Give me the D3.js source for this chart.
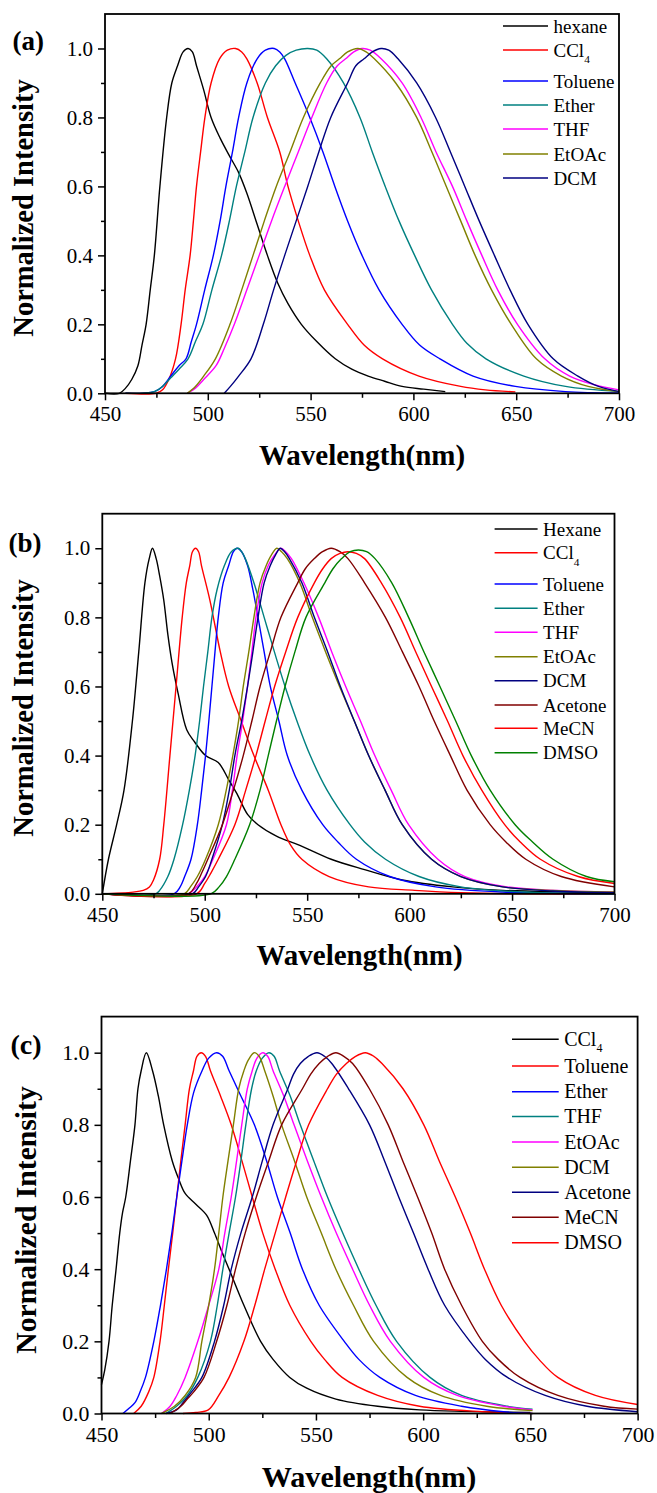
<!DOCTYPE html>
<html><head><meta charset="utf-8">
<script src="https://cdn.jsdelivr.net/npm/d3@7"></script>
<style>body{margin:0;background:#fff}svg{display:block}
svg text{font-family:"Liberation Serif","DejaVu Serif","Times New Roman",serif;}
</style>
</head><body>
<svg id="chart" width="657" height="1493"></svg>
<script>
// ---------- tick labels ----------
const xTicks = [450, 500, 550, 600, 650, 700];
const xMinorTicks = [475, 525, 575, 625, 675];
const yTicks = [0, 0.2, 0.4, 0.6, 0.8, 1.0];
const yMinorTicks = [0.1, 0.3, 0.5, 0.7, 0.9];
const xTitle = "Wavelength(nm)";
const yTitle = "Normalized Intensity";

// ---------- categories ----------
const solventsA = ["hexane", "CCl4", "Toluene", "Ether", "THF", "EtOAc", "DCM"];
const solventsB = ["Hexane", "CCl4", "Toluene", "Ether", "THF", "EtOAc", "DCM", "Acetone", "MeCN", "DMSO"];
const solventsC = ["CCl4", "Toluene", "Ether", "THF", "EtOAc", "DCM", "Acetone", "MeCN", "DMSO"];

// ---------- series values: [wavelength nm, normalized intensity] ----------
// Panel (a)
const a_hexane = [[450,0],[457,0],[460,0.015],[463,0.04],[466,0.08],[468,0.14],[470,0.2],[472,0.3],[474,0.4],[476.7,0.6],[480,0.8],[482.5,0.9],[485.3,0.95],[488,0.99],[490.4,1.0],[492.5,0.99],[494.5,0.95],[498,0.88],[501.6,0.8],[506,0.74],[510.4,0.69],[515,0.64],[519,0.58],[524,0.49],[529,0.4],[534,0.32],[539,0.26],[545.5,0.2],[553,0.15],[562,0.1],[570,0.07],[578,0.05],[586,0.035],[594.5,0.02],[605,0.012],[615.5,0.005]];
const a_ccl4 = [[460,0],[475,0],[478,0.01],[481,0.04],[484.3,0.1],[487,0.2],[489,0.3],[491.4,0.4],[493,0.5],[494.5,0.6],[496.5,0.7],[498.6,0.8],[501.6,0.9],[505.7,0.97],[509.5,0.995],[513.5,1.0],[516.5,0.99],[519,0.97],[524,0.9],[529,0.8],[535,0.7],[539,0.6],[544,0.5],[549.6,0.4],[556.7,0.3],[568,0.2],[576,0.14],[585,0.1],[602.7,0.05],[623,0.02],[635,0.01],[649.6,0.004]];
const a_toluene = [[460,0],[474,0.005],[478,0.02],[482,0.05],[486,0.08],[489.4,0.1],[492,0.15],[494.5,0.2],[498.5,0.3],[502.7,0.4],[506,0.5],[508.8,0.6],[512,0.7],[515,0.8],[519,0.9],[524,0.97],[528,0.995],[532.3,1.0],[535,0.99],[537.4,0.97],[542.5,0.9],[549.6,0.8],[556,0.7],[561.8,0.6],[568,0.5],[575,0.4],[583.3,0.3],[594.5,0.2],[603,0.14],[612.9,0.1],[629,0.05],[649.6,0.02],[674,0.005],[700,0.001]];
const a_ether = [[460,0],[474,0.005],[478,0.02],[482,0.045],[486,0.07],[490.4,0.1],[494,0.15],[497.6,0.2],[502,0.3],[506.7,0.4],[510.5,0.5],[513.9,0.6],[518,0.7],[522,0.8],[528,0.9],[533,0.95],[538,0.98],[543,0.995],[548.6,1.0],[553,0.995],[557.8,0.97],[566,0.9],[574,0.8],[580,0.7],[586.3,0.6],[593,0.5],[600.6,0.4],[608.8,0.3],[619,0.2],[626,0.145],[635.3,0.1],[653.7,0.05],[674,0.02],[700,0.005]];
const a_thf = [[490,0],[494,0.015],[498,0.04],[504,0.08],[508,0.13],[512.9,0.2],[519,0.3],[525,0.4],[531,0.5],[537.4,0.6],[544,0.7],[550.6,0.8],[557.8,0.9],[563,0.95],[567,0.97],[571,0.99],[575,1.0],[579,0.995],[584.3,0.97],[594.5,0.9],[603.7,0.8],[611,0.7],[619,0.6],[626,0.5],[633.3,0.4],[641,0.3],[650.6,0.2],[663.9,0.1],[676,0.05],[688,0.025],[700,0.01]];
const a_etoac = [[490,0],[494,0.02],[498,0.05],[503.7,0.1],[510.8,0.2],[516.5,0.3],[522,0.4],[527.5,0.5],[533.3,0.6],[540,0.7],[546.5,0.8],[554.7,0.9],[560,0.95],[564,0.97],[568,0.99],[573,1.0],[577,0.99],[581,0.97],[591.4,0.9],[601.6,0.8],[609,0.7],[616,0.6],[623,0.5],[630,0.4],[638,0.3],[647.6,0.2],[659.8,0.1],[672,0.05],[685,0.02],[700,0.005]];
const a_dcm = [[508,0],[511,0.02],[515,0.05],[521,0.1],[527,0.2],[532,0.3],[537.4,0.4],[543,0.5],[548.6,0.6],[554,0.7],[559.8,0.8],[568,0.9],[572,0.95],[576,0.97],[580,0.99],[584.3,1.0],[588,0.995],[592.5,0.97],[601.6,0.9],[610.8,0.8],[618,0.7],[625,0.6],[632,0.5],[639.4,0.4],[647,0.3],[655.7,0.2],[668,0.1],[680,0.05],[690,0.02],[700,0.005]];

// Panel (b)
const b_hexane = [[450,0],[453,0.1],[457,0.2],[460.6,0.3],[464.7,0.5],[467.8,0.7],[470.8,0.9],[472.9,0.97],[474.5,1.0],[476.3,0.97],[478,0.92],[480,0.85],[482,0.75],[484,0.67],[487,0.58],[491.2,0.475],[495,0.44],[500.4,0.4],[506.6,0.38],[511.7,0.33],[515.7,0.29],[520.9,0.23],[526,0.2],[535,0.167],[546.4,0.14],[561.7,0.1],[578,0.07],[596.4,0.04],[620.9,0.02],[645.4,0.01],[700,0.003]];
const b_ccl4 = [[450,0],[465,0.005],[470,0.01],[473,0.02],[475,0.04],[478,0.1],[480,0.2],[483,0.4],[486,0.6],[489,0.8],[491,0.9],[492.7,0.95],[494,0.99],[495.5,1.0],[497,0.99],[498.4,0.95],[502.5,0.85],[507.6,0.7],[511.7,0.6],[517.8,0.5],[524,0.4],[531,0.3],[537.2,0.2],[542,0.14],[547.4,0.1],[560.7,0.05],[580,0.02],[602.5,0.01],[625,0.003],[650,0],[700,0]];
const b_toluene = [[450,0],[485,0],[488,0.02],[490.2,0.05],[493.3,0.1],[496.4,0.2],[498.5,0.3],[500.4,0.4],[502,0.5],[503.5,0.6],[505,0.7],[506.6,0.8],[509,0.9],[511.7,0.95],[514,0.99],[515.8,1.0],[518,0.99],[520.9,0.95],[523.5,0.88],[526,0.8],[529,0.7],[532,0.6],[536.2,0.5],[540.3,0.4],[547.4,0.3],[557.6,0.2],[565,0.15],[574,0.1],[590.3,0.05],[612.7,0.02],[645.4,0.005],[700,0]];
const b_ether = [[450,0],[476,0],[478,0.01],[482,0.05],[485,0.1],[489.2,0.2],[492.5,0.3],[495.3,0.4],[497.5,0.5],[499.4,0.6],[501.5,0.7],[503.5,0.8],[506,0.88],[509.6,0.95],[513,0.99],[516.4,1.0],[518,0.99],[519.8,0.97],[524,0.9],[529,0.8],[534,0.7],[539.2,0.6],[545,0.5],[551.5,0.4],[559.7,0.3],[570.9,0.2],[578,0.15],[588.2,0.1],[604.6,0.05],[625,0.02],[655.6,0.005],[700,0]];
const b_thf = [[450,0],[492,0],[496,0.02],[500,0.05],[504,0.1],[510.6,0.2],[513.5,0.3],[515.8,0.4],[518.5,0.5],[520.9,0.6],[523,0.7],[525,0.8],[528,0.9],[531,0.95],[534,0.98],[537.2,1.0],[539.5,0.99],[542.3,0.97],[548.4,0.9],[555.6,0.8],[562,0.7],[568.8,0.6],[576,0.5],[583,0.4],[591,0.3],[599.5,0.2],[613.8,0.1],[627,0.05],[647.5,0.02],[672,0.01],[700,0.005]];
const b_etoac = [[450,0],[490,0],[493,0.02],[496.4,0.05],[500.4,0.1],[506.6,0.2],[510.5,0.3],[513.7,0.4],[516.5,0.5],[518.8,0.6],[521.5,0.7],[524,0.8],[527,0.9],[530,0.95],[532.5,0.98],[535.2,1.0],[537.5,0.99],[540.3,0.97],[546.4,0.9],[552.5,0.8],[559,0.7],[565.8,0.6],[573,0.5],[580,0.4],[588,0.3],[596.4,0.2],[610.7,0.1],[625,0.05],[645.4,0.02],[670,0.01],[700,0.005]];
const b_dcm = [[450,0],[494,0],[497,0.02],[500.4,0.05],[503.5,0.1],[508.6,0.2],[512,0.3],[514.7,0.4],[518,0.5],[520.9,0.6],[523.5,0.7],[526,0.8],[529,0.9],[532,0.95],[534.5,0.98],[536.8,1.0],[539,0.99],[541.3,0.97],[547.4,0.9],[553.5,0.8],[560,0.7],[566.2,0.6],[573,0.5],[580,0.4],[588,0.3],[596.4,0.2],[610.7,0.1],[625,0.05],[645.4,0.02],[670,0.008],[700,0.003]];
const b_acetone = [[450,0],[492,0],[496,0.03],[498.5,0.06],[501.5,0.1],[508.6,0.2],[514,0.3],[518.8,0.4],[523,0.5],[527,0.6],[532,0.7],[537.2,0.8],[545.4,0.9],[549,0.94],[553.5,0.97],[557.5,0.99],[561.7,1.0],[566,0.99],[569.9,0.97],[578,0.9],[588.2,0.8],[596.5,0.7],[604.6,0.6],[612,0.5],[619.9,0.4],[628,0.3],[639.3,0.2],[647,0.15],[656.7,0.1],[674,0.05],[700,0.02]];
const b_mecn = [[450,0],[496,0],[500,0.03],[503,0.06],[506.6,0.1],[514.7,0.2],[520,0.3],[525,0.4],[529.5,0.5],[534.1,0.6],[539.5,0.7],[545.4,0.8],[553.5,0.9],[557.5,0.94],[561.7,0.97],[566,0.985],[569.9,0.99],[574,0.985],[578,0.97],[586.2,0.9],[595.4,0.8],[603,0.7],[610.7,0.6],[618.5,0.5],[626,0.4],[635.2,0.3],[646.4,0.2],[654,0.15],[663.8,0.1],[682.2,0.05],[700,0.03]];
const b_dmso = [[450,0],[503,0],[507,0.02],[510.6,0.05],[514.7,0.1],[521.9,0.2],[527,0.3],[531,0.4],[535,0.5],[539.2,0.6],[544,0.7],[549.4,0.8],[558.6,0.9],[562.5,0.94],[566.8,0.97],[571,0.99],[575,0.995],[579,0.99],[583.1,0.97],[591.3,0.9],[599.5,0.8],[607,0.7],[614.8,0.6],[622.5,0.5],[630.1,0.4],[639.3,0.3],[651.5,0.2],[660,0.15],[670,0.1],[686.3,0.05],[700,0.035]];

// Panel (c)
const c_ccl4 = [[450,0.08],[451.5,0.12],[453.5,0.2],[455,0.3],[456.8,0.4],[458.5,0.5],[459.8,0.556],[461.3,0.6],[463.5,0.7],[465.6,0.8],[467,0.9],[468.5,0.95],[470.9,1.0],[473.8,0.95],[476.5,0.88],[479,0.8],[483,0.7],[486,0.65],[489,0.61],[494,0.58],[499,0.55],[502.7,0.5],[506,0.45],[509.5,0.4],[516.4,0.3],[524.2,0.2],[530,0.15],[537.8,0.1],[545.7,0.07],[559.3,0.04],[578.8,0.02],[598.3,0.01],[617.9,0.006],[650,0.003]];
const c_toluene = [[465,0],[468.5,0.02],[472,0.06],[474.4,0.1],[477.3,0.2],[479.3,0.3],[481.2,0.4],[483.2,0.5],[485.1,0.6],[487,0.7],[489,0.8],[491,0.9],[492.9,0.95],[494.5,0.99],[496.5,1.0],[498.5,0.99],[500.8,0.95],[505.5,0.88],[510.5,0.8],[515.5,0.7],[520.3,0.6],[525.2,0.5],[531,0.4],[537.8,0.3],[547.6,0.2],[554,0.15],[562.2,0.1],[578.8,0.05],[598.3,0.02],[627.6,0.005],[651,0]];
const c_ether = [[460,0],[463,0.015],[465.6,0.03],[468,0.06],[470.5,0.1],[474.4,0.2],[477.5,0.3],[480.3,0.4],[482.8,0.5],[485.1,0.6],[487.5,0.7],[490,0.8],[493,0.89],[496.9,0.95],[500,0.985],[503.7,1.0],[506.5,0.99],[509.5,0.95],[515,0.88],[521.3,0.8],[527,0.7],[532,0.6],[538,0.5],[543.7,0.4],[551.5,0.3],[563.2,0.2],[570,0.15],[579.8,0.1],[596.4,0.05],[617.9,0.02],[637.4,0.005],[651,0]];
const c_thf = [[480,0],[485,0.02],[490,0.05],[494.9,0.1],[500.8,0.2],[504,0.3],[506.6,0.4],[509.5,0.5],[512.5,0.6],[515,0.7],[517.3,0.8],[520,0.9],[522.2,0.95],[525,0.985],[528.1,1.0],[530.5,0.99],[533,0.95],[538,0.88],[542.7,0.8],[549,0.7],[555.4,0.6],[562.5,0.5],[570,0.4],[578,0.3],[587.6,0.2],[603.2,0.1],[617.9,0.05],[639.3,0.02],[651,0.012]];
const c_etoac = [[478,0],[482,0.02],[485.1,0.05],[489,0.1],[494.9,0.2],[500,0.3],[504.7,0.4],[507.5,0.5],[510.5,0.6],[513,0.7],[515.4,0.8],[518,0.9],[520.3,0.95],[522.5,0.985],[525.2,1.0],[527.5,0.99],[530,0.95],[535,0.88],[539.8,0.8],[546,0.7],[552.5,0.6],[559.5,0.5],[567.1,0.4],[575,0.3],[584.7,0.2],[600.3,0.1],[615.9,0.05],[637.4,0.02],[651,0.01]];
const c_dcm = [[478,0],[484,0.02],[489,0.05],[493.9,0.1],[496.8,0.2],[500,0.3],[502.7,0.4],[504.7,0.5],[506.6,0.6],[509,0.7],[511.5,0.8],[514,0.9],[516.4,0.95],[518.5,0.98],[521.2,1.0],[523.5,0.99],[526.1,0.95],[530,0.88],[534,0.8],[540,0.7],[545.7,0.6],[552.5,0.5],[559.3,0.4],[567.5,0.3],[576.9,0.2],[592.5,0.1],[608.1,0.05],[629.6,0.02],[651,0.008]];
const c_acetone = [[480,0],[485,0.01],[488,0.03],[492,0.06],[496.8,0.1],[502.7,0.2],[507,0.3],[510.5,0.4],[515,0.5],[520.3,0.6],[525,0.7],[530,0.8],[536.9,0.9],[539.5,0.94],[542.7,0.97],[546.5,0.99],[550.5,1.0],[554,0.99],[557.4,0.97],[565.2,0.9],[575,0.8],[582,0.7],[588.6,0.6],[595.5,0.5],[602.3,0.4],[610,0.3],[621.8,0.2],[629,0.15],[639.3,0.1],[656.9,0.05],[676.4,0.02],[700,0.005]];
const c_mecn = [[482,0],[487,0.02],[490,0.04],[493,0.06],[497.8,0.1],[503.7,0.2],[508.5,0.3],[512.5,0.4],[517,0.5],[522.2,0.6],[528,0.7],[534,0.8],[543.7,0.9],[547.5,0.94],[551.5,0.97],[555.5,0.99],[559.3,1.0],[563,0.99],[567.1,0.97],[574.9,0.9],[583.7,0.8],[590.5,0.7],[597.4,0.6],[604,0.5],[610,0.4],[617.9,0.3],[627.6,0.2],[635,0.15],[645.2,0.1],[662.8,0.05],[684.3,0.02],[700,0.012]];
const c_dmso = [[488,0],[494,0.003],[499.8,0.01],[504.7,0.05],[509.5,0.1],[516.4,0.2],[521.5,0.3],[526.1,0.4],[531,0.5],[535.9,0.6],[541,0.7],[546.6,0.8],[555.4,0.9],[559.5,0.94],[564.2,0.97],[568.5,0.99],[573,1.0],[577,0.99],[580.8,0.97],[590.6,0.9],[600.3,0.8],[607.5,0.7],[615,0.6],[622,0.5],[628.6,0.4],[636.4,0.3],[647.2,0.2],[654,0.15],[662.8,0.1],[680.3,0.05],[700,0.025]];

// ---------- styling ----------
const colorsA = ["#000000","#ff0000","#0000ff","#008080","#ff00ff","#808000","#000080"];
const colorsB = ["#000000","#ff0000","#0000ff","#008080","#ff00ff","#808000","#000080","#800000","#ff0000","#008000"];
const colorsC = ["#000000","#ff0000","#0000ff","#008080","#ff00ff","#808000","#000080","#800000","#ff0000"];

const panels = [
  { tag:"(a)", names:solventsA, colors:colorsA, data:[a_hexane,a_ccl4,a_toluene,a_ether,a_thf,a_etoac,a_dcm],
    L:{x0:105,x1:619,y0:393.3,yT:14, tagX:12.6,tagY:50, xtX:362,xtY:465, ytX:33,ytY:208,
       legX:503,legLen:45,legRows:[26,50,81,105,129,154,178],legFs:19, s:1}},
  { tag:"(b)", names:solventsB, colors:colorsB, data:[b_hexane,b_ccl4,b_toluene,b_ether,b_thf,b_etoac,b_dcm,b_acetone,b_mecn,b_dmso],
    L:{x0:102.3,x1:614.5,y0:893.8,yT:513.7, tagX:8.4,tagY:552, xtX:359.5,xtY:965, ytX:33,ytY:708,
       legX:494.6,legLen:43,legRows:[529,552.7,584,608.3,632.3,656.7,680.7,705,728.3,752.7],legFs:19, s:1}},
  { tag:"(c)", names:solventsC, colors:colorsC, data:[c_ccl4,c_toluene,c_ether,c_thf,c_etoac,c_dcm,c_acetone,c_mecn,c_dmso],
    L:{x0:101.5,x1:637.6,y0:1413.5,yT:1016.6, tagX:10.5,tagY:1054, xtX:369,xtY:1487, ytX:36,ytY:1220,
       legX:512,legLen:46.7,legRows:[1039.3,1066,1091.7,1116.5,1142,1167.3,1192.3,1217.3,1242.7],legFs:20, s:1.04}}
];

const svg = d3.select("#chart");
svg.append("rect").attr("width",657).attr("height",1493).attr("fill","#fff");

panels.forEach(p => {
  const L = p.L;
  const x = d3.scaleLinear().domain([450,700]).range([L.x0,L.x1]);
  const y = d3.scaleLinear().domain([0,1.1]).range([L.y0,L.yT]);
  const g = svg.append("g");
  const tickFs = 21*L.s;

  const line = d3.line().x(d=>x(d[0])).y(d=>y(Math.max(0,d[1]))).curve(d3.curveCatmullRom.alpha(0.5));
  p.data.forEach((d,i) => {
    g.append("path").datum(d).attr("d",line).attr("fill","none")
      .attr("stroke",p.colors[i]).attr("stroke-width",1.4).attr("stroke-linejoin","round");
  });

  const xAxis = d3.axisBottom(x).tickValues(xTicks).tickSize(7).tickPadding(6).tickFormat(d3.format("d"));
  const xAxisMinor = d3.axisBottom(x).tickValues(xMinorTicks).tickSize(4.5).tickFormat("");
  const yAxis = d3.axisLeft(y).tickValues(yTicks).tickSize(7).tickPadding(5).tickFormat(d3.format(".1f"));
  const yAxisMinor = d3.axisLeft(y).tickValues(yMinorTicks).tickSize(4).tickFormat("");
  [[xAxis,true],[xAxisMinor,true],[yAxis,false],[yAxisMinor,false]].forEach(([ax,isX]) => {
    const a = g.append("g").attr("transform", isX ? `translate(0,${L.y0})` : `translate(${L.x0},0)`).call(ax);
    a.attr("font-family",null).attr("font-size",null);
    a.select(".domain").remove();
    a.selectAll("line").attr("stroke","#000").attr("stroke-width",1.5);
    a.selectAll("text").style("font-size",tickFs+"px").attr("fill","#000");
  });

  g.append("rect").attr("x",L.x0).attr("y",L.yT).attr("width",L.x1-L.x0).attr("height",L.y0-L.yT)
    .attr("fill","none").attr("stroke","#000").attr("stroke-width",1.8);

  g.append("text").attr("x",L.xtX).attr("y",L.xtY).attr("text-anchor","middle")
    .style("font-weight","bold").style("font-size",(29*L.s)+"px").text(xTitle);
  g.append("text").attr("transform",`translate(${L.ytX},${L.ytY}) rotate(-90)`).attr("text-anchor","middle")
    .style("font-weight","bold").style("font-size",(28.5*L.s)+"px").text(yTitle);
  g.append("text").attr("x",L.tagX).attr("y",L.tagY)
    .style("font-weight","bold").style("font-size",(27*L.s)+"px").text(p.tag);

  p.names.forEach((n,i) => {
    const ry = L.legRows[i];
    g.append("line").attr("x1",L.legX).attr("x2",L.legX+L.legLen).attr("y1",ry).attr("y2",ry)
      .attr("stroke",p.colors[i]).attr("stroke-width",1.6);
    const t = g.append("text").attr("x",L.legX+L.legLen+5.5).attr("y",ry+6.5)
      .style("font-size",L.legFs+"px").attr("fill","#000");
    if (n === "CCl4") {
      t.append("tspan").text("CCl");
      t.append("tspan").style("font-size",(L.legFs*0.6)+"px").attr("dy",6.5).text("4");
    } else t.text(n);
  });
});
</script>
</body></html>
